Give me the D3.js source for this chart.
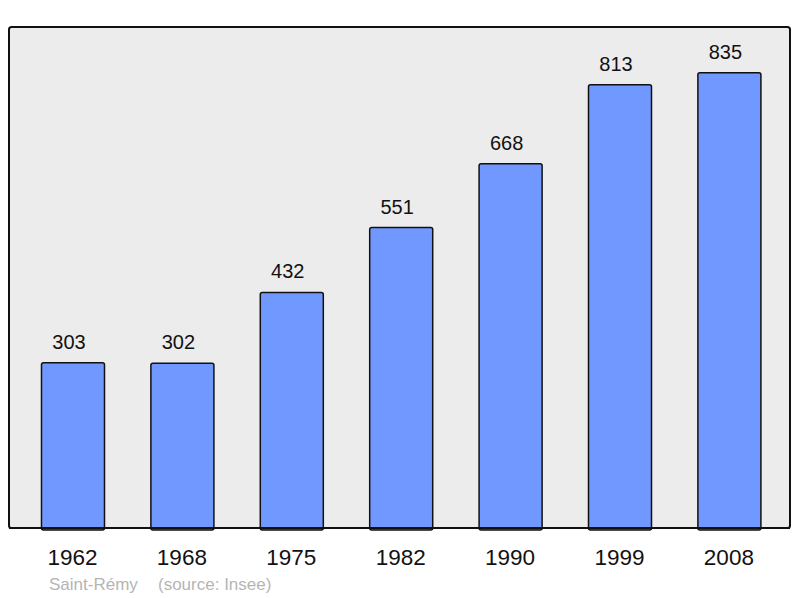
<!DOCTYPE html>
<html>
<head>
<meta charset="utf-8">
<script src="https://cdn.jsdelivr.net/npm/d3@7"></script>
<style>
  body { margin: 0; background: #fff; }
  svg { display: block; font-family: "Liberation Sans", Arial, sans-serif; }
</style>
</head>
<body>
<div id="output"></div>
<script>
// population by census year
const years = ["1962", "1968", "1975", "1982", "1990", "1999", "2008"];
const population = [303, 302, 432, 551, 668, 813, 835];
const town = "Saint-Rémy";
const source = "(source: Insee)";

const width = 800, height = 598;
const frame = {left: 9, top: 27, right: 790, bottom: 528};

const svg = d3.create("svg")
    .attr("width", width)
    .attr("height", height);

svg.append("rect")
    .attr("x", frame.left)
    .attr("y", frame.top)
    .attr("width", frame.right - frame.left)
    .attr("height", frame.bottom - frame.top)
    .attr("rx", 2.5)
    .attr("fill", "#ececec")
    .attr("stroke", "#111")
    .attr("stroke-width", 2);

const x = d3.scaleBand()
    .domain(years)
    .range([18.3, 784.1])
    .paddingInner(0.424)
    .paddingOuter(0.212);

const y = d3.scaleLinear()
    .domain([0, 919])
    .range([frame.bottom, frame.top]);

const data = years.map((yr, i) => ({year: yr, value: population[i]}));

svg.append("g")
    .selectAll("rect")
    .data(data)
    .join("rect")
    .attr("x", d => x(d.year))
    .attr("y", d => y(d.value))
    .attr("width", x.bandwidth())
    .attr("height", d => frame.bottom - y(d.value) + 2)
    .attr("rx", 2)
    .attr("fill", "#7098ff")
    .attr("stroke", "#111")
    .attr("stroke-width", 1.5);

// redraw bottom edge of the frame over the bars
svg.append("line")
    .attr("x1", frame.left)
    .attr("x2", frame.right)
    .attr("y1", frame.bottom)
    .attr("y2", frame.bottom)
    .attr("stroke", "#111")
    .attr("stroke-width", 2);

// value labels sit a little left of the bar centre in the original
svg.append("g")
    .selectAll("text")
    .data(data)
    .join("text")
    .attr("x", d => x(d.year) + x.bandwidth() / 2 - 4)
    .attr("y", d => y(d.value) - 14)
    .attr("text-anchor", "middle")
    .attr("font-size", 20)
    .attr("fill", "#111")
    .text(d => d.value);

svg.append("g")
    .selectAll("text")
    .data(years)
    .join("text")
    .attr("x", d => x(d) + x.bandwidth() / 2 - 0.5)
    .attr("y", 565)
    .attr("text-anchor", "middle")
    .attr("font-size", 22.5)
    .attr("fill", "#111")
    .text(d => d);

svg.append("text")
    .attr("x", 49)
    .attr("y", 590)
    .attr("font-size", 17)
    .attr("fill", "#b5b5b5")
    .text(town);

svg.append("text")
    .attr("x", 158)
    .attr("y", 590)
    .attr("font-size", 17)
    .attr("fill", "#b5b5b5")
    .text(source);

document.getElementById("output").append(svg.node());
</script>
</body>
</html>
